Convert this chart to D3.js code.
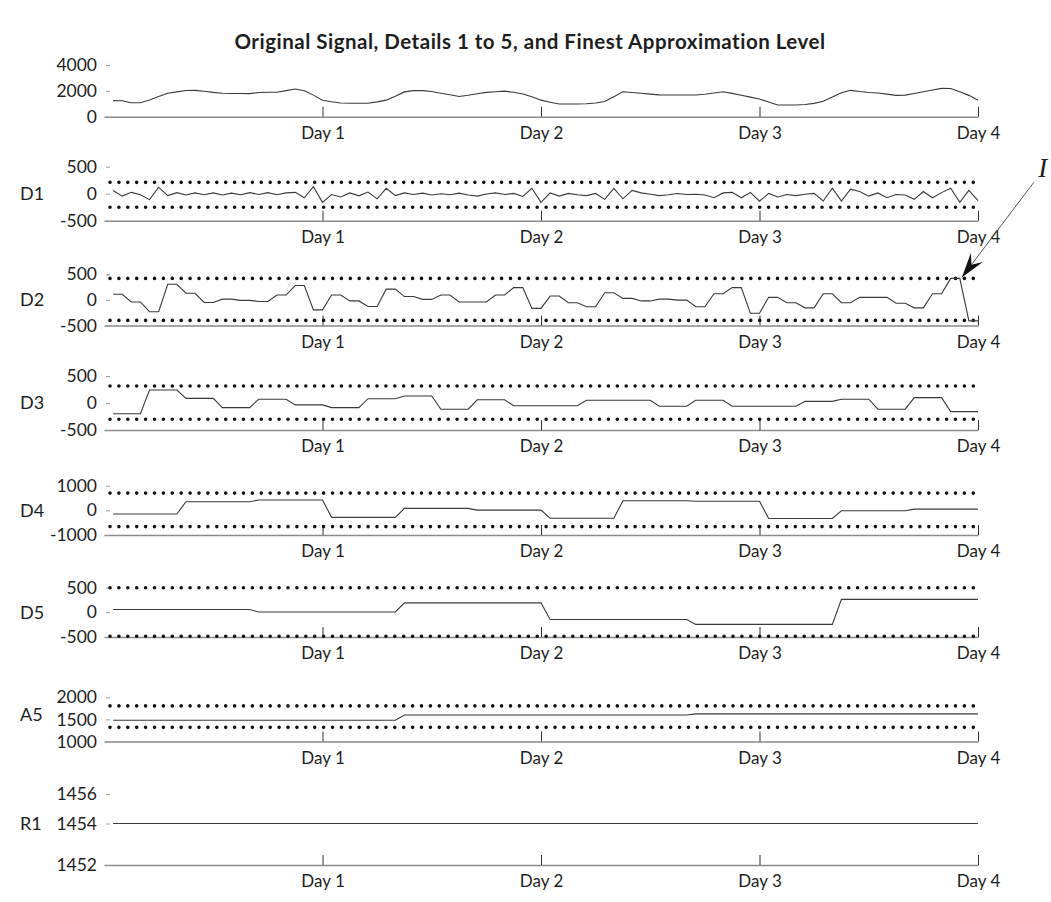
<!DOCTYPE html>
<html>
<head>
<meta charset="utf-8">
<script src="https://cdn.jsdelivr.net/npm/d3@7"></script>
<style>
  body { margin: 0; background: #fff; }
  svg text { font-family: Lato, "Open Sans", "DejaVu Sans", sans-serif; fill: #1e1e1e; }
</style>
</head>
<body>
<svg id="chart" width="1051" height="902"></svg>
<script>
// Hourly samples over four days (hour 1 .. hour 96)
const hours = d3.range(1, 97);
const dayTicks = [24, 48, 72, 96];
const dayLabels = ["Day 1", "Day 2", "Day 3", "Day 4"];

const titleText = "Original Signal, Details 1 to 5, and Finest Approximation Level";

// Original hourly signal
const original = [
  1240,1230,1085,1085,1290,1560,1820,1920,2025,2040,1975,1880,1810,1800,1795,1785,1875,1890,1890,2015,2145,2005,1670,1270,
  1155,1065,1040,1040,1040,1145,1280,1590,1920,2015,2015,1950,1820,1695,1565,1660,1780,1880,1925,1975,1890,1750,1540,1280,
  1115,985,985,985,1005,1065,1175,1550,1925,1875,1810,1745,1685,1680,1680,1680,1680,1735,1835,1935,1805,1665,1515,1365,
  1130,905,905,905,945,1030,1190,1520,1850,2040,1945,1875,1830,1745,1650,1670,1800,1930,2060,2190,2180,1930,1650,1280
];

// Detail level 1
const d1 = [
  60,-45,25,-20,-110,120,-35,20,-25,15,-20,15,-25,10,-20,20,-15,20,-20,15,25,-75,130,-160,
  -15,-60,15,-40,30,-95,100,-35,15,-15,10,-25,0,-20,10,-25,-45,-5,15,-15,5,-50,100,-160,
  15,-45,5,-20,-35,5,-105,100,-95,60,15,-10,-35,-20,5,-15,-10,-25,-75,15,25,-75,25,-140,
  5,-60,-15,-35,-10,5,-135,100,-135,85,40,-45,15,-75,-15,-25,-105,40,-75,20,100,-160,60,-130
];

// Detail level 2 (two-hour steps)
const d2 = [
  110,110,-40,-40,-230,-230,305,305,130,130,-50,-50,15,15,-10,-10,-30,-30,95,95,280,280,-195,-195,
  95,95,-20,-20,-130,-130,210,210,65,65,10,10,95,95,-40,-40,-40,-40,95,95,240,240,-165,-165,
  75,75,-55,-55,-135,-135,140,140,30,30,-20,-20,15,15,-5,-5,-135,-135,120,120,240,240,-260,-260,
  50,50,-55,-55,-155,-155,120,120,-55,-55,50,50,50,50,-65,-65,-155,-155,120,120,420,420,-410,-410
];

// Detail level 3 (four-hour steps)
const d3v = [
  -200,-200,-200,-200,240,240,240,240,85,85,85,85,-85,-85,-85,-85,70,70,70,70,-35,-35,-35,-35,
  -85,-85,-85,-85,80,80,80,80,130,130,130,130,-115,-115,-115,-115,60,60,60,60,-50,-50,-50,-50,
  -50,-50,-50,-50,50,50,50,50,50,50,50,50,-60,-60,-60,-60,50,50,50,50,-60,-60,-60,-60,
  -60,-60,-60,-60,30,30,30,30,70,70,70,70,-115,-115,-115,-115,100,100,100,100,-160,-160,-160,-160
];

// Detail level 4 (eight-hour steps)
const d4 = [
  -150,-150,-150,-150,-150,-150,-150,-150,350,350,350,350,350,350,350,350,420,420,420,420,420,420,420,420,
  -285,-285,-285,-285,-285,-285,-285,-285,80,80,80,80,80,80,80,80,10,10,10,10,10,10,10,10,
  -320,-320,-320,-320,-320,-320,-320,-320,390,390,390,390,390,390,390,390,370,370,370,370,370,370,370,370,
  -330,-330,-330,-330,-330,-330,-330,-330,-15,-15,-15,-15,-15,-15,-15,-15,50,50,50,50,50,50,50,50
];

// Detail level 5 (sixteen-hour steps)
const d5 = [
  55,55,55,55,55,55,55,55,55,55,55,55,55,55,55,55,5,5,5,5,5,5,5,5,
  5,5,5,5,5,5,5,5,190,190,190,190,190,190,190,190,190,190,190,190,190,190,190,190,
  -145,-145,-145,-145,-145,-145,-145,-145,-145,-145,-145,-145,-145,-145,-145,-145,-245,-245,-245,-245,-245,-245,-245,-245,
  -245,-245,-245,-245,-245,-245,-245,-245,260,260,260,260,260,260,260,260,260,260,260,260,260,260,260,260
];

// Approximation level 5
const a5 = [
  1480,1480,1480,1480,1480,1480,1480,1480,1480,1480,1480,1480,1480,1480,1480,1480,1480,1480,1480,1480,1480,1480,1480,1480,
  1480,1480,1480,1480,1480,1480,1480,1480,1600,1600,1600,1600,1600,1600,1600,1600,1600,1600,1600,1600,1600,1600,1600,1600,
  1600,1600,1600,1600,1600,1600,1600,1600,1600,1600,1600,1600,1600,1600,1600,1600,1625,1625,1625,1625,1625,1625,1625,1625,
  1625,1625,1625,1625,1625,1625,1625,1625,1625,1625,1625,1625,1625,1625,1625,1625,1625,1625,1625,1625,1625,1625,1625,1625
];

// Finest approximation level
const r1 = [
  1454,1454,1454,1454,1454,1454,1454,1454,1454,1454,1454,1454,1454,1454,1454,1454,1454,1454,1454,1454,1454,1454,1454,1454,
  1454,1454,1454,1454,1454,1454,1454,1454,1454,1454,1454,1454,1454,1454,1454,1454,1454,1454,1454,1454,1454,1454,1454,1454,
  1454,1454,1454,1454,1454,1454,1454,1454,1454,1454,1454,1454,1454,1454,1454,1454,1454,1454,1454,1454,1454,1454,1454,1454,
  1454,1454,1454,1454,1454,1454,1454,1454,1454,1454,1454,1454,1454,1454,1454,1454,1454,1454,1454,1454,1454,1454,1454,1454
];

// Control limits (upper, lower) per level
const d1Limits = [210, -250];
const d2Limits = [420, -400];
const d3Limits = [315, -300];
const d4Limits = [700, -660];
const d5Limits = [495, -485];
const a5Limits = [1805, 1320];

// Y tick values
const origTicks = [0, 2000, 4000];
const d1Ticks = [-500, 0, 500];
const d2Ticks = [-500, 0, 500];
const d3Ticks = [-500, 0, 500];
const d4Ticks = [-1000, 0, 1000];
const d5Ticks = [-500, 0, 500];
const a5Ticks = [1000, 1500, 2000];
const r1Ticks = [1452, 1454, 1456];

// Outlier flagged on level 2
const outlierLabel = "I";
const outlierHour = 94;
const outlierValue = 420;

// ---- layout ----
const svg = d3.select("#chart");
const x = d3.scaleLinear().domain([0, 96]).range([104, 978]);
const labelFont = "Lato, 'Open Sans', sans-serif";

const panels = [
  { label: "",   values: original, ticks: origTicks, limits: null,     labelAt: null,
    y: d3.scaleLinear().domain([0, 4000]).range([116.7, 65]) },
  { label: "D1", values: d1,  ticks: d1Ticks, limits: d1Limits, labelAt: 0,
    y: d3.scaleLinear().domain([-500, 500]).range([220.7, 166.7]) },
  { label: "D2", values: d2,  ticks: d2Ticks, limits: d2Limits, labelAt: 0,
    y: d3.scaleLinear().domain([-500, 500]).range([325.5, 274.3]) },
  { label: "D3", values: d3v, ticks: d3Ticks, limits: d3Limits, labelAt: 0,
    y: d3.scaleLinear().domain([-500, 500]).range([430, 376]) },
  { label: "D4", values: d4,  ticks: d4Ticks, limits: d4Limits, labelAt: 0,
    y: d3.scaleLinear().domain([-1000, 1000]).range([535, 485.7]) },
  { label: "D5", values: d5,  ticks: d5Ticks, limits: d5Limits, labelAt: 0,
    y: d3.scaleLinear().domain([-500, 500]).range([637, 587.5]) },
  { label: "A5", values: a5,  ticks: a5Ticks, limits: a5Limits, labelAt: 1620,
    y: d3.scaleLinear().domain([1000, 2000]).range([741.5, 697.3]) },
  { label: "R1", values: r1,  ticks: r1Ticks, limits: null,     labelAt: 1454,
    y: d3.scaleLinear().domain([1452, 1454, 1456]).range([865, 823.5, 794]) }
];

// Title
svg.append("text")
  .attr("x", 530).attr("y", 49)
  .attr("text-anchor", "middle")
  .style("font-size", "20.5px").style("font-weight", "700")
  .style("letter-spacing", "0.5px")
  .text(titleText);

const line = d3.line().x((d, i) => x(hours[i])).y(d => d);

panels.forEach(p => {
  const g = svg.append("g");
  const base = p.y(p.y.domain()[0]);

  // x axis along the bottom of the panel, ticks pointing up
  const xAxis = d3.axisBottom(x)
    .tickValues(dayTicks)
    .tickFormat((d, i) => dayLabels[i])
    .tickSizeInner(-10).tickSizeOuter(0).tickPadding(10);
  const xa = g.append("g").attr("transform", `translate(0,${base})`).call(xAxis);
  xa.select(".domain").attr("stroke", "#8a8a8a").attr("stroke-width", 1.4);
  xa.selectAll(".tick line").attr("stroke", "#333").attr("stroke-width", 1);
  xa.selectAll(".tick text").style("font-size", "17px").style("font-family", labelFont).attr("fill", "#1e1e1e");

  // y axis: plain hyphen-minus labels with short dashes
  const yAxis = d3.axisLeft(p.y).tickValues(p.ticks).tickFormat(d => String(d))
    .tickSizeInner(4).tickSizeOuter(0).tickPadding(9);
  const ya = g.append("g").attr("transform", "translate(110,0)").call(yAxis);
  ya.select(".domain").remove();
  ya.selectAll(".tick line").attr("stroke", "#9a9a9a");
  ya.selectAll(".tick text").style("font-size", "17.5px").style("font-family", labelFont).attr("fill", "#1e1e1e");

  // control limits as dotted lines
  if (p.limits) {
    g.selectAll(".limit").data(p.limits).join("line")
      .attr("x1", 110).attr("x2", x(96))
      .attr("y1", d => p.y(d)).attr("y2", d => p.y(d))
      .attr("stroke", "#111").attr("stroke-width", 3.6)
      .attr("stroke-linecap", "round").attr("stroke-dasharray", "0 8.9");
  }

  // the series
  g.append("path")
    .attr("d", line(p.values.map(v => p.y(v))))
    .attr("fill", "none").attr("stroke", "#3a3a3a").attr("stroke-width", 1.1);

  // series name
  if (p.label) {
    g.append("text")
      .attr("x", 20).attr("y", p.y(p.labelAt))
      .attr("dy", "0.36em")
      .style("font-size", "18px")
      .text(p.label);
  }
});

// Arrow pointing at the flagged level-2 value
const d2Panel = panels[2];
const tip = [x(outlierHour) + 2, d2Panel.y(outlierValue) - 1];
const tail = [tip[0] + 72, tip[1] - 95];
const len = Math.hypot(tail[0] - tip[0], tail[1] - tip[1]);
const u = [(tip[0] - tail[0]) / len, (tip[1] - tail[1]) / len];
const n = [-u[1], u[0]];
const L = 25, W = 7.5, N = 16;
svg.append("line")
  .attr("x1", tail[0]).attr("y1", tail[1])
  .attr("x2", tip[0] - u[0] * N).attr("y2", tip[1] - u[1] * N)
  .attr("stroke", "#555").attr("stroke-width", 1);
svg.append("path")
  .attr("d", d3.line()([
    tip,
    [tip[0] - L * u[0] + W * n[0], tip[1] - L * u[1] + W * n[1]],
    [tip[0] - N * u[0], tip[1] - N * u[1]],
    [tip[0] - L * u[0] - W * n[0], tip[1] - L * u[1] - W * n[1]]
  ]) + "Z")
  .attr("fill", "#111");
svg.append("text")
  .attr("x", tail[0] + 9).attr("y", tail[1] - 5)
  .attr("text-anchor", "middle")
  .style("font-family", "'Liberation Serif', 'DejaVu Serif', serif")
  .style("font-style", "italic")
  .style("font-size", "27px")
  .text(outlierLabel);
</script>
</body>
</html>
